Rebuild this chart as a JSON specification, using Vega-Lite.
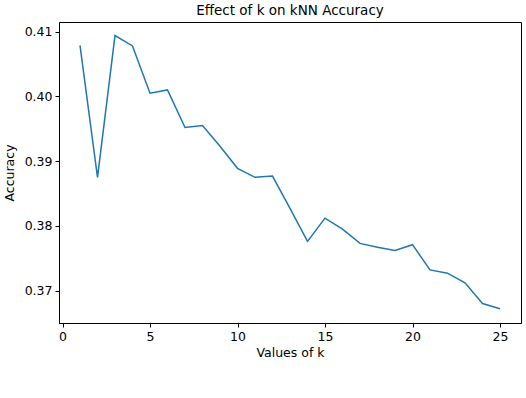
{
  "$schema": "https://vega.github.io/schema/vega-lite/v6.json",
  "autosize": {"type": "none"},
  "padding": {"left": 59, "top": 22, "right": 5, "bottom": 75},
  "width": 462,
  "height": 301,
  "background": "white",
  "title": {"text": "Effect of k on kNN Accuracy", "font": "DejaVu Sans", "fontSize": 13.5, "fontWeight": "normal", "color": "#000", "offset": 5},
  "config": {
    "view": {"stroke": "#000", "strokeWidth": 1},
    "axis": {"labelFont": "DejaVu Sans", "titleFont": "DejaVu Sans", "labelFontSize": 12.5, "titleFontSize": 12.5, "titleFontWeight": "normal", "labelColor": "#000", "titleColor": "#000", "domainColor": "#000", "tickColor": "#000", "tickSize": 4, "grid": false}
  },
  "data": {"values": [
    {"k": 1, "acc": 0.4079},
    {"k": 2, "acc": 0.3875},
    {"k": 3, "acc": 0.4094},
    {"k": 4, "acc": 0.4078},
    {"k": 5, "acc": 0.4005},
    {"k": 6, "acc": 0.4010},
    {"k": 7, "acc": 0.3952},
    {"k": 8, "acc": 0.3955},
    {"k": 9, "acc": 0.3923},
    {"k": 10, "acc": 0.3889},
    {"k": 11, "acc": 0.3875},
    {"k": 12, "acc": 0.3877},
    {"k": 13, "acc": 0.3827},
    {"k": 14, "acc": 0.3776},
    {"k": 15, "acc": 0.3812},
    {"k": 16, "acc": 0.3795},
    {"k": 17, "acc": 0.3773},
    {"k": 18, "acc": 0.3767},
    {"k": 19, "acc": 0.3762},
    {"k": 20, "acc": 0.3771},
    {"k": 21, "acc": 0.3732},
    {"k": 22, "acc": 0.3727},
    {"k": 23, "acc": 0.3712},
    {"k": 24, "acc": 0.3680},
    {"k": 25, "acc": 0.3672}
  ]},
  "mark": {"type": "line", "color": "#1f77b4", "strokeWidth": 1.5},
  "encoding": {
    "x": {"field": "k", "type": "quantitative", "title": "Values of k",
      "scale": {"domain": [-0.2, 26.2], "nice": false, "zero": false},
      "axis": {"values": [0, 5, 10, 15, 20, 25], "format": "d", "labelPadding": 3, "titlePadding": 4}},
    "y": {"field": "acc", "type": "quantitative", "title": "Accuracy",
      "scale": {"domain": [0.365, 0.4115], "nice": false, "zero": false},
      "axis": {"values": [0.37, 0.38, 0.39, 0.40, 0.41], "format": ".2f", "labelPadding": 3, "titlePadding": 8}}
  }
}
